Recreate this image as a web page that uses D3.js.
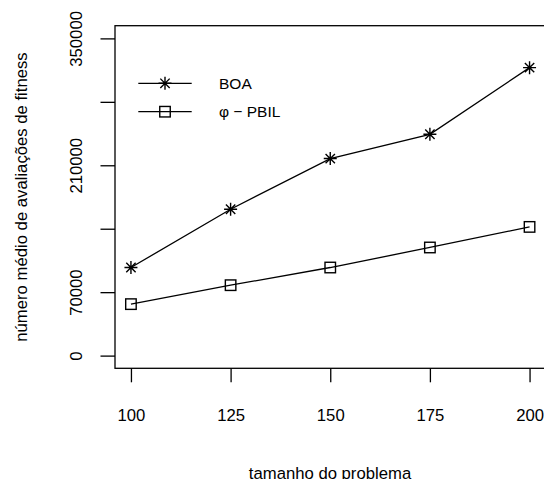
<!DOCTYPE html>
<html>
	<head>
		<meta http-equiv="Content-Type" content="text/html;charset=utf-8"/>
		<title>BOA vs PBIL</title>
		<script src="https://d3js.org/d3.v7.min.js"></script>
		<style type="text/css">
			body { margin: 0; background: #fff; }
			text { font-family: "Liberation Sans", Arial, sans-serif; fill: #000; }
			.axis text, .title { font-size: 16.7px; }
			.legend text { font-size: 15.5px; }
			.series { fill: none; stroke: #000; stroke-width: 1.3; }
			.mark { fill: none; stroke: #000; stroke-width: 1.4; }
		</style>
	</head>
	<body>
		<script type="text/javascript">

			//Data
			var sizes = [100, 125, 150, 175, 200];
			var boa = [97200, 161500, 217400, 244200, 317700];
			var pbil = [56800, 77700, 97200, 119300, 142000];
			var yTicks = [0, 70000, 140000, 210000, 280000, 350000];
			var yLabels = ["0", "70000", "", "210000", "", "350000"];
			var seriesNames = ["BOA", "\u03C6 \u2212 PBIL"];

			var w = 544,
				h = 479;

			var svg = d3.select("body").append("svg")
						.attr("width", w)
						.attr("height", h);

			//R style: axis limits stretched by 4%
			var xScale = d3.scaleLinear()
						.domain([96, 204])
						.range([115, 545.5]);

			var yScale = d3.scaleLinear()
						.domain([-14000, 364000])
						.range([368.3, 25.7]);

			//Box around plot region
			svg.append("rect")
				.attr("x", xScale(96))
				.attr("y", yScale(364000))
				.attr("width", xScale(204) - xScale(96))
				.attr("height", yScale(-14000) - yScale(364000))
				.attr("fill", "none")
				.attr("stroke", "#000")
				.attr("stroke-width", 1.3);

			//x axis
			var xAxis = svg.append("g")
				.attr("class", "axis")
				.attr("transform", "translate(0," + yScale(-14000) + ")")
				.call(d3.axisBottom(xScale).tickValues(sizes).tickSize(14).tickPadding(26.5));
			xAxis.select(".domain").remove();
			xAxis.selectAll("line").attr("stroke-width", 1.3);

			//y axis, labels turned like R's las = 0
			var yAxis = svg.append("g")
				.attr("class", "axis")
				.attr("transform", "translate(" + xScale(96) + ",0)")
				.call(d3.axisLeft(yScale).tickValues(yTicks).tickSize(14.5)
					.tickFormat(function(d, i) { return yLabels[i]; }));
			yAxis.select(".domain").remove();
			yAxis.selectAll("line").attr("stroke-width", 1.3);
			yAxis.selectAll("text")
				.attr("x", null)
				.attr("dy", null)
				.attr("text-anchor", "middle")
				.attr("transform", "translate(-33,0) rotate(-90)");

			//axis titles
			svg.append("text")
				.attr("class", "title")
				.attr("x", 330)
				.attr("y", 479)
				.attr("text-anchor", "middle")
				.text("tamanho do problema");

			svg.append("text")
				.attr("class", "title")
				.attr("text-anchor", "middle")
				.attr("transform", "translate(27," + ((yScale(-14000) + yScale(364000)) / 2) + ") rotate(-90)")
				.text("número médio de avaliações de fitness");

			var line = d3.line()
				.x(function(d, i) { return xScale(sizes[i]); })
				.y(function(d) { return yScale(d); });

			//asterisk marker (pch 8)
			function star(g, x, y) {
				var r = 6.5, d = r * 0.72;
				g.append("path")
					.attr("class", "mark")
					.attr("d", "M" + (x - r) + "," + y + "H" + (x + r) +
						"M" + x + "," + (y - r) + "V" + (y + r) +
						"M" + (x - d) + "," + (y - d) + "L" + (x + d) + "," + (y + d) +
						"M" + (x - d) + "," + (y + d) + "L" + (x + d) + "," + (y - d));
			}

			//square marker (pch 0)
			function square(g, x, y) {
				var s = 10.5;
				g.append("rect")
					.attr("class", "mark")
					.attr("fill", "#fff")
					.attr("x", x - s / 2)
					.attr("y", y - s / 2)
					.attr("width", s)
					.attr("height", s);
			}

			var gBoa = svg.append("g");
			gBoa.append("path").attr("class", "series").attr("d", line(boa));
			boa.forEach(function(v, i) { star(gBoa, xScale(sizes[i]), yScale(v)); });

			var gPbil = svg.append("g");
			gPbil.append("path").attr("class", "series").attr("d", line(pbil));
			pbil.forEach(function(v, i) { square(gPbil, xScale(sizes[i]), yScale(v)); });

			//legend
			var legend = svg.append("g").attr("class", "legend");
			var markers = [star, square];
			seriesNames.forEach(function(name, i) {
				var ly = 83.3 + i * 28.4;
				legend.append("line")
					.attr("x1", 138.3).attr("x2", 191.7)
					.attr("y1", ly).attr("y2", ly)
					.attr("stroke", "#000").attr("stroke-width", 1.3);
				markers[i](legend, 165, ly);
				legend.append("text")
					.attr("x", 219)
					.attr("y", ly + 5.5)
					.text(name);
			});

		</script>
	</body>
</html>
